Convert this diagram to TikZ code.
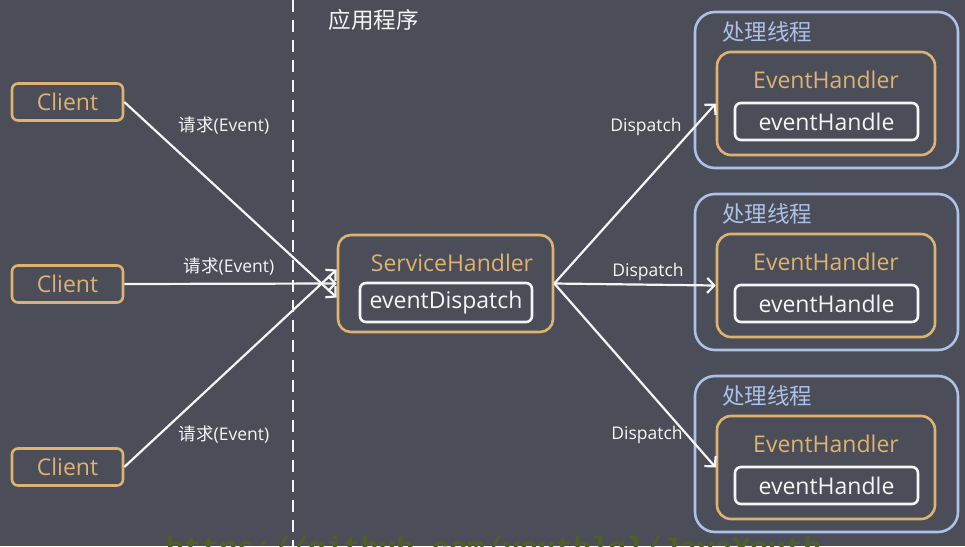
\documentclass[tikz,border=0pt]{standalone}
\usepackage{fontspec}
\setmainfont{Open Sans}
\newfontfamily\cjk{Noto Sans CJK SC}
\newfontfamily\wmfont{Liberation Mono}
\usetikzlibrary{arrows.meta}
\definecolor{bg}{RGB}{75,78,88}
\definecolor{org}{RGB}{222,178,112}
\definecolor{blu}{RGB}{172,192,232}
\definecolor{wht}{RGB}{245,245,245}
\definecolor{wm}{RGB}{80,96,36}
\tikzset{
  box/.style={draw, line width=2.6pt, inner sep=0pt},
  bigfont/.style={font=\fontsize{23}{23}\selectfont},
  clientbox/.style={box, draw=org, rounded corners=6pt, minimum width=111pt, minimum height=37pt, text=org, bigfont},
  orgbox/.style={box, draw=org, rounded corners=14pt},
  whtbox/.style={box, draw=wht, rounded corners=6pt, text=wht, bigfont},
  blubox/.style={box, draw=blu, rounded corners=20pt, minimum width=263pt, minimum height=156pt},
  orgtext/.style={text=org, bigfont, inner sep=0pt},
  blutext/.style={text=blu, font=\cjk\fontsize{22.5}{22.5}\selectfont, inner sep=0pt},
  lbl/.style={text=wht, font=\fontsize{17.5}{17.5}\selectfont, inner sep=0pt},
  arr/.style={draw=wht, line width=2.2pt, -{Straight Barb[length=7pt,width=15pt,line width=2.2pt]}},
  divline/.style={draw=wht, line width=2.6pt, dash pattern=on 12pt off 8pt},
}
\begin{document}
\begin{tikzpicture}[x=1pt,y=-1pt]
\fill[bg] (0,0) rectangle (965,546);
\useasboundingbox (0,0) rectangle (965,546);

% watermark
\node[anchor=base west, inner sep=0pt, text=wm, font=\wmfont\bfseries\fontsize{29.5}{29.5}\selectfont] (wmk) at (166,557) {https://github.com/youthlql/JavaYouth};

% divider
\coordinate (dtop) at (293,0);
\coordinate (dbot) at (293,546);
\draw[divline] (dtop) -- (dbot);
\node[text=wht, font=\cjk\fontsize{22.5}{22.5}\selectfont, inner sep=0pt] (app) at (373.5,20) {应用程序};

% clients
\node[clientbox] (c1) at (67.5,102) {Client};
\node[clientbox] (c2) at (67.5,284) {Client};
\node[clientbox] (c3) at (67.5,467) {Client};

% service handler
\node[box, draw=org, rounded corners=13pt, minimum width=215pt, minimum height=97pt] (sh) at (445.5,283.5) {};
\node[orgtext] (shtxt) at (452,263) {ServiceHandler};
\node[whtbox, minimum width=172pt, minimum height=39pt] (ed) at (446,302.5) {eventDispatch};

% threads
\foreach \o/\n in {0/1,182/2,364/3}{
  \node[blubox] (t\n) at (826.5,90+\o) {};
  \node[blutext, anchor=west] (tt\n) at (722,32+\o) {处理线程};
  \node[orgbox, minimum width=218pt, minimum height=103pt] (eh\n) at (826,103.5+\o) {};
  \node[orgtext] (ehtxt\n) at (826,80+\o) {EventHandler};
  \node[whtbox, minimum width=183pt, minimum height=37pt] (ehd\n) at (826.5,121.5+\o) {eventHandle};
}

% request arrows
\draw[arr] (c1.east) -- ([yshift=-14pt]sh.west);
\draw[arr] (c2.east) -- (sh.west);
\draw[arr] (c3.east) -- ([yshift=14pt]sh.west);
\node[lbl] (l1) at (224,126) {{\cjk 请求}(Event)};
\node[lbl] (l2) at (229,267) {{\cjk 请求}(Event)};
\node[lbl] (l3) at (224,435) {{\cjk 请求}(Event)};

% dispatch arrows
\draw[arr] (sh.east) -- (eh1.west);
\draw[arr] (sh.east) -- (eh2.west);
\draw[arr] (sh.east) -- (eh3.west);
\node[lbl] (d1) at (646,127) {Dispatch};
\node[lbl] (d2) at (648,272) {Dispatch};
\node[lbl] (d3) at (647,435) {Dispatch};
\end{tikzpicture}
\end{document}
